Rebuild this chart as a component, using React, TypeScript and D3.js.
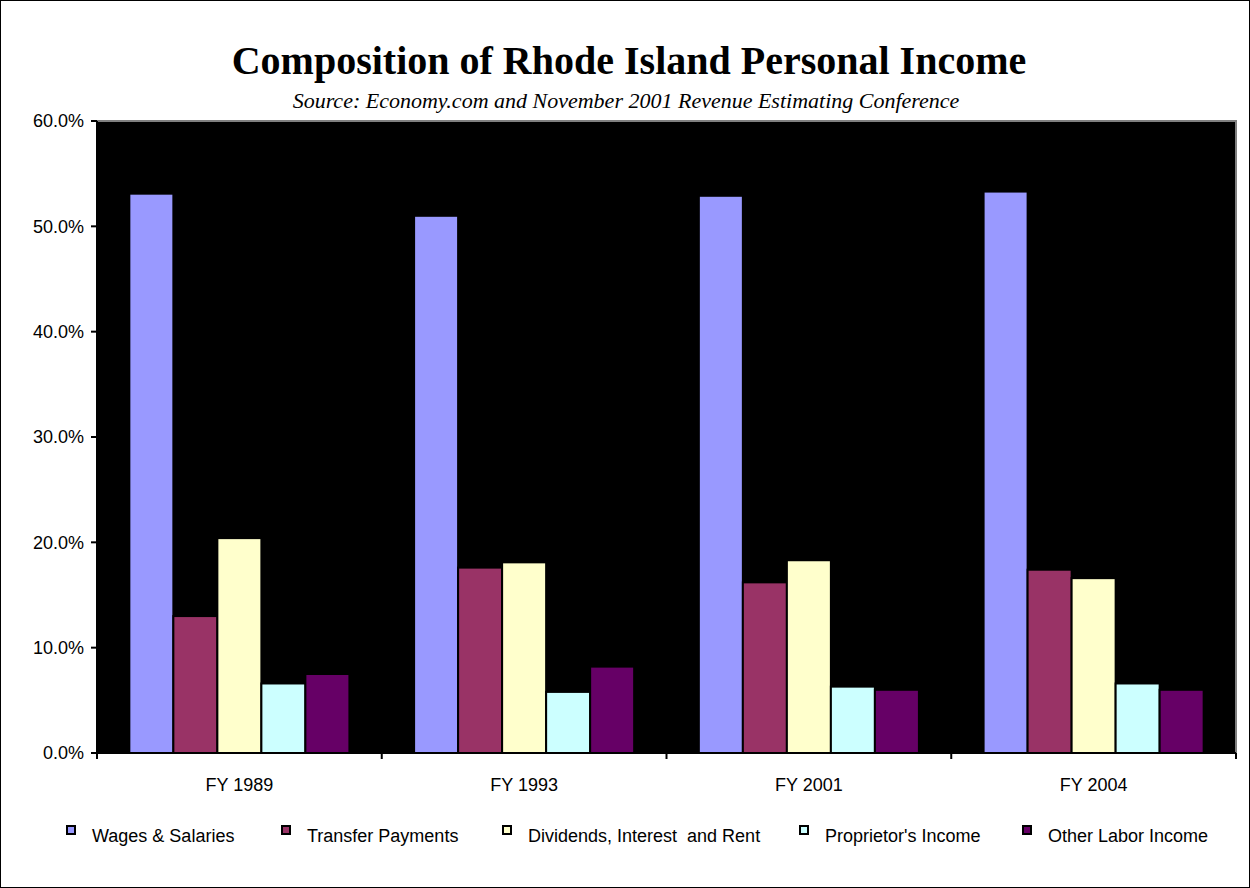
import React from "react";
import * as d3 from "d3";

const categories = ["FY 1989", "FY 1993", "FY 2001", "FY 2004"];
const seriesNames = [
  "Wages & Salaries",
  "Transfer Payments",
  "Dividends, Interest  and Rent",
  "Proprietor's Income",
  "Other Labor Income",
];
const wages = [53.1, 51.0, 52.9, 53.3];
const transfer = [13.0, 17.6, 16.2, 17.4];
const dividends = [20.4, 18.1, 18.3, 16.6];
const proprietor = [6.6, 5.8, 6.3, 6.6];
const otherLabor = [7.5, 8.2, 6.0, 6.0];
const colors = ["#9999FF", "#993366", "#FFFFCC", "#CCFFFF", "#660066"];
const yTicks = [0, 10, 20, 30, 40, 50, 60];

const W = 1250;
const H = 888;
const left = 97;
const right = 1236;
const top = 121;
const bottom = 753;
const sans = "'Liberation Sans', Arial, sans-serif";
const serif = "'Liberation Serif', 'Times New Roman', serif";

export default function App() {
  const seriesValues = [wages, transfer, dividends, proprietor, otherLabor];
  const x0 = d3.scaleBand<string>().domain(categories).range([left, right]).paddingInner(0).paddingOuter(0);
  const x1 = d3
    .scaleBand<string>()
    .domain(seriesNames)
    .range([0, x0.bandwidth()])
    .paddingInner(0)
    .paddingOuter(0.735);
  const y = d3.scaleLinear().domain([0, 60]).range([bottom, top]);

  const legendX = [67, 282, 503, 800, 1023];

  return (
    <svg
      width={W}
      height={H}
      style={{ position: "absolute", left: 0, top: 0, background: "#fff" }}
    >
      <rect x={0.5} y={0.5} width={W - 1} height={H - 1} fill="#fff" stroke="#000" strokeWidth={1} />
      <text x={629} y={74} textAnchor="middle" fontFamily={serif} fontWeight="bold" fontSize={40}>
        Composition of Rhode Island Personal Income
      </text>
      <text x={626} y={108} textAnchor="middle" fontFamily={serif} fontStyle="italic" fontSize={22}>
        Source: Economy.com and November 2001 Revenue Estimating Conference
      </text>

      {/* plot area */}
      <rect x={left} y={top} width={right - left} height={bottom - top} fill="#000" stroke="#808080" strokeWidth={2} />

      {/* bars */}
      {categories.map((c, ci) => (
        <g key={c}>
          {seriesNames.map((s, si) => {
            const v = seriesValues[si][ci];
            const bx = (x0(c) as number) + (x1(s) as number);
            return (
              <rect
                key={s}
                x={bx}
                y={y(v)}
                width={x1.bandwidth()}
                height={bottom - y(v)}
                fill={colors[si]}
                stroke="#000"
                strokeWidth={2}
              />
            );
          })}
        </g>
      ))}

      {/* y axis */}
      <line x1={left} x2={left} y1={top} y2={bottom} stroke="#000" strokeWidth={2} />
      {yTicks.map((t) => (
        <g key={t}>
          <line x1={left - 6} x2={left} y1={y(t)} y2={y(t)} stroke="#000" strokeWidth={2} />
          <text
            x={84}
            y={y(t)}
            dy="0.35em"
            textAnchor="end"
            fontFamily={sans}
            fontSize={18}
          >
            {d3.format(".1f")(t) + "%"}
          </text>
        </g>
      ))}

      {/* x axis */}
      <line x1={left} x2={right} y1={bottom} y2={bottom} stroke="#000" strokeWidth={2} />
      {categories.map((c) => (
        <line
          key={"tk" + c}
          x1={x0(c) as number}
          x2={x0(c) as number}
          y1={bottom}
          y2={bottom + 6}
          stroke="#000"
          strokeWidth={2}
        />
      ))}
      <line x1={right} x2={right} y1={bottom} y2={bottom + 6} stroke="#000" strokeWidth={2} />
      {categories.map((c) => (
        <text
          key={"lb" + c}
          x={(x0(c) as number) + x0.bandwidth() / 2}
          y={791}
          textAnchor="middle"
          fontFamily={sans}
          fontSize={18}
        >
          {c}
        </text>
      ))}

      {/* legend */}
      {seriesNames.map((s, i) => (
        <g key={"lg" + s}>
          <rect x={legendX[i]} y={826} width={8} height={8} fill={colors[i]} stroke="#000" strokeWidth={2} />
          <text x={legendX[i] + 25} y={842} fontFamily={sans} fontSize={18} style={{ whiteSpace: "pre" }}>
            {s}
          </text>
        </g>
      ))}
    </svg>
  );
}
